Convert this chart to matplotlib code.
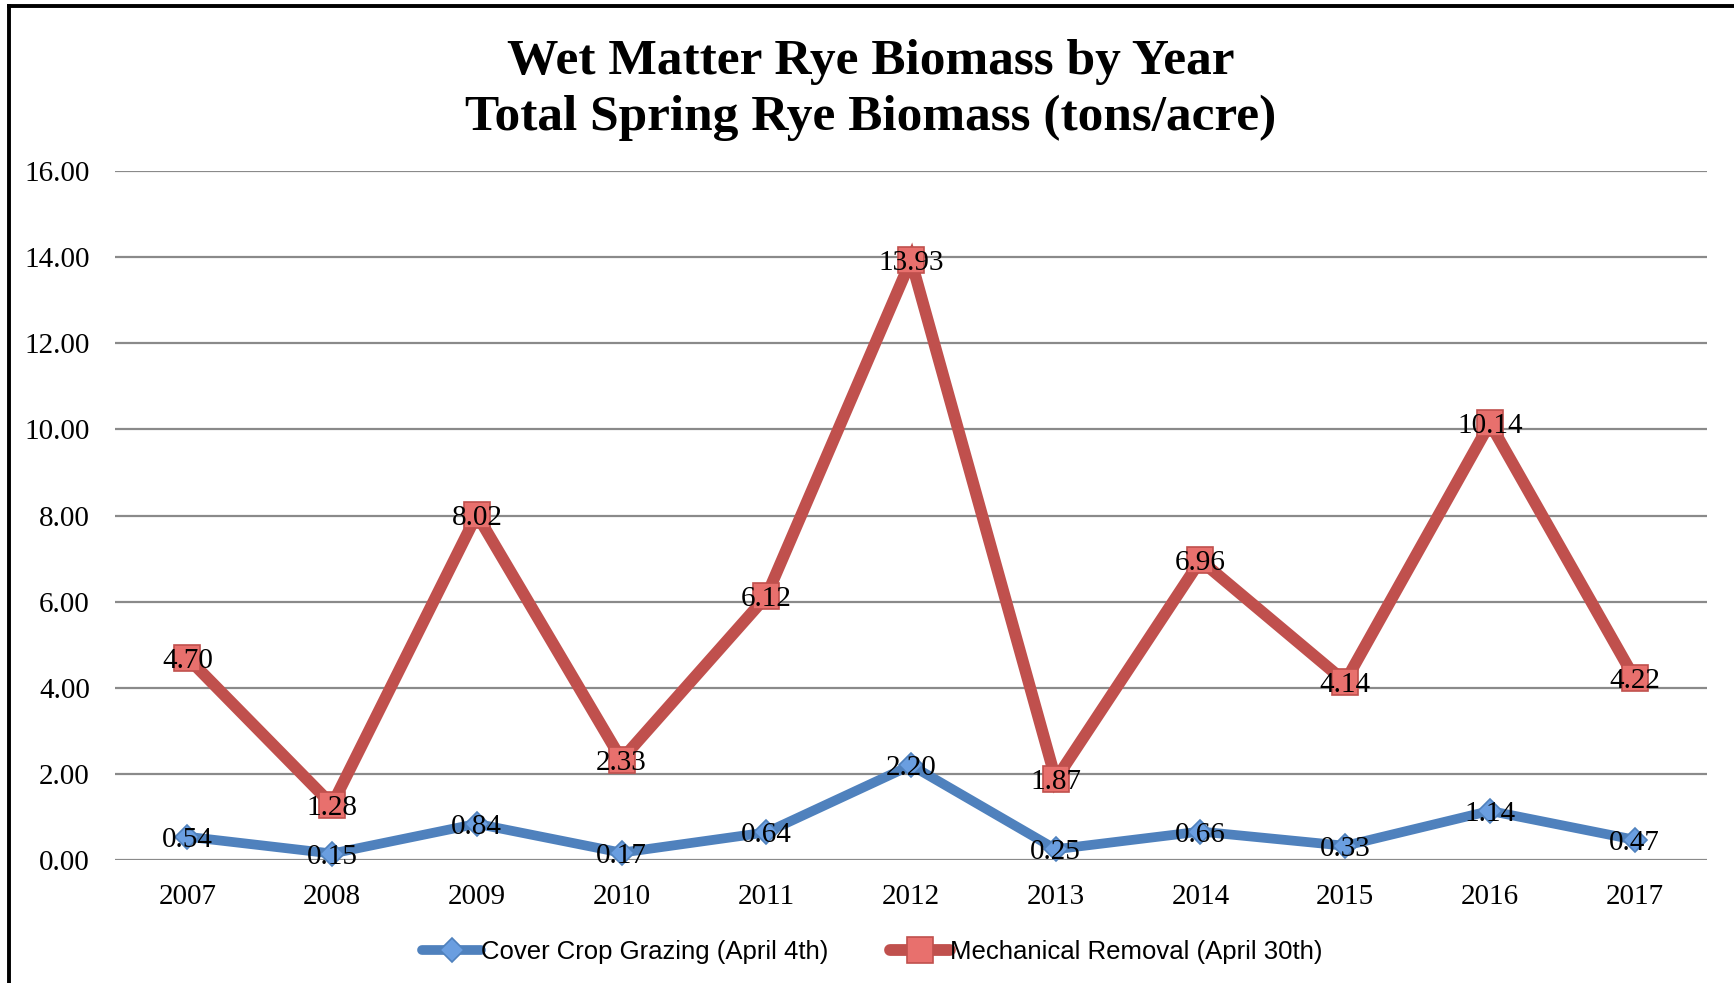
import matplotlib.pyplot as plt
from matplotlib.lines import Line2D
import numpy as np

years = ['2007', '2008', '2009', '2010', '2011', '2012', '2013', '2014', '2015', '2016', '2017']
grazing = [0.54, 0.15, 0.84, 0.17, 0.64, 2.20, 0.25, 0.66, 0.33, 1.14, 0.47]
mechanical = [4.70, 1.28, 8.02, 2.33, 6.12, 13.93, 1.87, 6.96, 4.14, 10.14, 4.22]
y_ticks = [0, 2, 4, 6, 8, 10, 12, 14, 16]

grazing_label = 'Cover Crop Grazing (April 4th)'
mechanical_label = 'Mechanical Removal (April 30th)'

SERIF = ['Liberation Serif', 'DejaVu Serif']
NARROW = ['Liberation Sans Narrow', 'Liberation Sans', 'DejaVu Sans']


def draw_series(ax, x, values, color, face, marker, ms, lw, label):
    ax.plot(x, values, color=color, linewidth=lw, marker=marker, markersize=ms,
            markerfacecolor=face, markeredgecolor=color, markeredgewidth=1.2,
            solid_joinstyle='miter', label=label, zorder=3, clip_on=False)
    # value labels sit centred on each point
    for xi, v in zip(x, values):
        ax.text(xi, v, f'{v:.2f}', ha='center', va='center_baseline', fontsize=21,
                family=SERIF, color='black', zorder=5, clip_on=False)


def make_chart():
    fig = plt.figure(figsize=(17.34, 9.83), dpi=100)
    ax = fig.add_axes([115 / 1734, 123 / 983, 1592 / 1734, 689 / 983])

    x = np.arange(len(years))

    draw_series(ax, x, grazing, '#4F81BD', '#6A9EE0', 'D', 12.5, 7, grazing_label)
    draw_series(ax, x, mechanical, '#C0504D', '#E8706D', 's', 18.5, 8.5, mechanical_label)

    ax.set_xlim(-0.5, len(years) - 0.5)
    ax.set_ylim(0, 16)
    ax.set_yticks(y_ticks)
    ax.set_yticklabels([f'{t:.2f}' for t in y_ticks], family=SERIF, fontsize=21)
    ax.set_xticks(x)
    ax.set_xticklabels(years, family=SERIF, fontsize=21)
    ax.tick_params(axis='y', length=0, pad=18)
    ax.tick_params(axis='x', length=0, pad=17)

    ax.grid(axis='y', color='#8a8a8a', linewidth=1.6)
    ax.set_axisbelow(True)
    for side in ['top', 'right', 'left', 'bottom']:
        ax.spines[side].set_visible(False)

    # title
    fig.text(0.502, 0.937, 'Wet Matter Rye Biomass by Year', ha='center', va='center',
             fontsize=37, fontweight='bold', family=SERIF)
    fig.text(0.502, 0.880, 'Total Spring Rye Biomass (tons/acre)', ha='center', va='center',
             fontsize=37, fontweight='bold', family=SERIF)

    # legend along the bottom
    leg = fig.legend(loc='center', bbox_to_anchor=(0.503, 1 - 952 / 983), ncol=2,
                     frameon=False, prop={'family': NARROW, 'size': 18.5},
                     handlelength=2.3, handletextpad=0.0, columnspacing=2.4)
    for h in leg.legend_handles:
        h.set_solid_capstyle('round')

    # frame pieces on the left and top edges
    fig.add_artist(Line2D([9 / 1734, 9 / 1734], [0, 1 - 6 / 983], color='black',
                          linewidth=2.8, transform=fig.transFigure))
    fig.add_artist(Line2D([9 / 1734, 1], [1 - 6 / 983, 1 - 6 / 983], color='black',
                          linewidth=2.8, transform=fig.transFigure))

    fig.savefig('out.png', dpi=100)


if __name__ == "__main__":
    make_chart()
